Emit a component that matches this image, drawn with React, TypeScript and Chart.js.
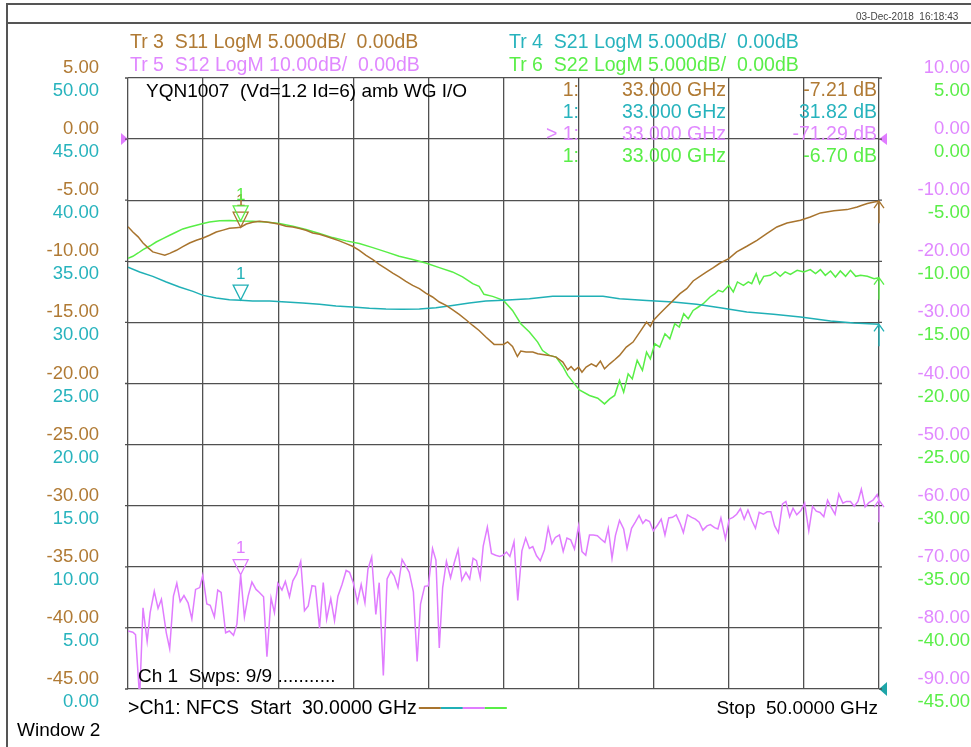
import React, { useEffect, useRef } from 'react';
import { Chart, registerables } from 'chart.js';

Chart.register(...registerables);

// ---------- data (GHz / dB) ----------
const freqS11 = [30.00,30.13,30.27,30.40,30.53,30.66,30.80,30.98,31.11,31.29,31.46,31.64,31.82,32.00,32.17,32.35,32.53,32.70,32.88,33.00,33.15,33.32,33.50,33.68,33.86,34.03,34.21,34.39,34.57,34.74,34.92,35.10,35.27,35.45,35.63,35.81,35.98,36.16,36.34,36.52,36.69,36.87,37.05,37.22,37.40,37.58,37.76,37.93,38.11,38.29,38.47,38.64,38.82,39.00,39.18,39.35,39.53,39.75,40.00,40.11,40.24,40.37,40.46,40.60,40.78,40.91,41.04,41.22,41.40,41.58,41.71,41.80,41.89,42.00,42.09,42.20,42.34,42.47,42.58,42.69,42.83,42.96,43.09,43.27,43.45,43.63,43.81,43.91,43.99,44.16,44.34,44.52,44.70,44.88,45.05,45.23,45.41,45.59,45.77,46.00,46.21,46.48,46.75,47.01,47.28,47.55,47.91,48.17,48.44,48.80,49.15,49.42,49.55,49.69,49.87,50.00];
const s11 = [-7.17,-7.6,-8.0,-8.5,-8.88,-9.23,-9.35,-9.5,-9.35,-9.1,-8.8,-8.5,-8.28,-8.09,-7.87,-7.6,-7.45,-7.3,-7.25,-7.21,-6.95,-6.8,-6.72,-6.78,-6.86,-6.97,-7.13,-7.19,-7.32,-7.46,-7.68,-7.79,-7.95,-8.14,-8.33,-8.55,-8.77,-9.10,-9.51,-9.86,-10.25,-10.60,-10.96,-11.28,-11.64,-11.97,-12.24,-12.60,-12.92,-13.33,-13.61,-13.96,-14.34,-14.78,-15.25,-15.66,-16.2,-16.8,-16.8,-16.6,-16.97,-17.79,-17.35,-17.43,-17.43,-17.57,-17.62,-17.70,-17.84,-18.25,-18.88,-18.61,-18.93,-18.66,-19.07,-18.66,-18.39,-18.61,-18.17,-18.80,-18.39,-18.06,-17.70,-17.02,-16.61,-15.79,-14.97,-15.33,-14.84,-14.29,-13.74,-13.20,-12.65,-12.24,-11.61,-11.23,-10.87,-10.52,-10.14,-9.78,-9.23,-8.77,-8.28,-7.73,-7.19,-6.86,-6.64,-6.37,-6.04,-5.87,-5.77,-5.55,-5.41,-5.27,-5.14,-5.08];

const freqS21 = [30.00,30.31,30.66,31.02,31.37,31.73,32.00,32.35,32.70,33.00,33.32,33.77,34.21,34.65,35.10,35.54,35.98,36.43,36.87,37.31,37.76,38.20,38.64,39.09,39.53,40.00,40.69,41.31,42.02,42.65,43.09,43.81,44.52,45.14,45.77,46.48,47.19,47.91,48.71,49.33,50.00];
const s21 = [34.52,34.13,33.77,33.31,32.90,32.54,32.21,32.00,31.86,31.82,31.75,31.75,31.67,31.58,31.48,31.34,31.26,31.15,31.09,31.07,31.09,31.20,31.39,31.58,31.75,31.82,31.94,32.13,32.13,32.13,31.94,31.80,31.67,31.48,31.20,30.85,30.66,30.44,30.11,29.95,29.84];

const freqS12 = [30.00,30.13,30.20,30.31,30.40,30.51,30.59,30.70,30.80,30.89,31.02,31.11,31.21,31.30,31.39,31.49,31.60,31.70,31.80,31.91,31.99,32.10,32.19,32.30,32.39,32.48,32.60,32.70,32.81,32.90,33.00,33.10,33.20,33.30,33.41,33.50,33.61,33.70,33.81,33.90,33.99,34.10,34.19,34.30,34.39,34.49,34.60,34.70,34.80,34.90,34.99,35.10,35.20,35.29,35.40,35.50,35.59,35.70,35.81,35.90,36.00,36.11,36.21,36.31,36.39,36.49,36.60,36.69,36.80,36.90,37.00,37.09,37.19,37.30,37.40,37.49,37.60,37.70,37.79,37.90,38.00,38.11,38.20,38.29,38.38,38.48,38.59,38.69,38.79,38.89,39.00,39.10,39.19,39.28,39.38,39.46,39.57,39.68,39.79,39.90,39.99,40.08,40.17,40.28,40.38,40.49,40.59,40.69,40.78,40.88,40.98,41.09,41.19,41.29,41.38,41.49,41.59,41.69,41.79,41.89,42.00,42.09,42.19,42.29,42.39,42.50,42.60,42.70,42.79,42.89,42.98,43.09,43.20,43.29,43.41,43.51,43.61,43.71,43.79,43.89,43.99,44.10,44.20,44.30,44.40,44.50,44.60,44.71,44.79,44.90,45.01,45.11,45.21,45.31,45.42,45.51,45.62,45.71,45.79,45.91,46.01,46.11,46.21,46.31,46.41,46.51,46.62,46.71,46.81,46.92,47.02,47.12,47.22,47.32,47.43,47.52,47.62,47.71,47.81,47.92,48.02,48.13,48.23,48.33,48.43,48.53,48.63,48.73,48.83,48.93,49.04,49.13,49.24,49.34,49.44,49.53,49.63,49.73,49.84,49.95,50.00];
const s12 = [-80.5,-80.7,-81.1,-91.5,-76.7,-82.2,-77.5,-74.0,-76.8,-75.3,-80.8,-83.4,-74.8,-72.7,-75.7,-74.7,-75.9,-78.5,-73.7,-73.4,-71.4,-76.1,-76.3,-78.2,-73.8,-74.2,-80.8,-80.5,-81.2,-79.4,-71.3,-78.2,-74.8,-72.5,-73.7,-74.2,-74.9,-84.7,-75.1,-77.5,-72.7,-73.8,-72.4,-74.9,-72.3,-71.2,-69.1,-77.2,-76.4,-73.1,-73.2,-80.0,-72.6,-78.6,-75.2,-78.8,-74.8,-72.9,-70.6,-70.9,-72.6,-75.8,-72.9,-75.9,-70.4,-68.4,-77.8,-72.6,-87.8,-72.0,-70.7,-71.5,-73.4,-68.8,-69.9,-70.9,-74.1,-85.5,-76.1,-73.2,-73.1,-67.0,-68.9,-83.3,-73.4,-69.1,-71.8,-69.3,-67.2,-72.2,-70.9,-72.0,-68.6,-69.0,-71.8,-66.6,-63.5,-67.8,-68.1,-68.3,-68.1,-67.6,-68.3,-65.9,-75.5,-67.4,-65.3,-67.0,-66.7,-68.2,-69.0,-67.2,-63.6,-66.2,-65.2,-64.8,-67.5,-65.3,-65.6,-67.1,-63.3,-67.5,-68.1,-64.8,-64.8,-64.9,-65.5,-66.0,-63.7,-68.6,-64.9,-62.4,-63.8,-67.0,-63.7,-62.7,-61.6,-62.9,-62.3,-62.6,-64.1,-63.2,-62.2,-64.8,-62.0,-61.9,-61.5,-63.0,-64.4,-61.5,-61.9,-62.2,-62.7,-64.0,-63.3,-63.1,-63.6,-63.8,-62.0,-65.4,-62.2,-61.9,-61.4,-60.5,-62.2,-60.7,-62.5,-63.7,-61.1,-61.4,-61.0,-61.0,-63.3,-64.4,-59.7,-59.3,-61.8,-60.4,-61.5,-60.8,-59.6,-64.1,-60.1,-60.9,-61.1,-61.8,-59.1,-60.3,-61.4,-58.1,-59.6,-59.3,-59.3,-60.1,-59.3,-57.3,-60.2,-59.5,-59.1,-58.2,-59.1];

const freqS22 = [30.00,30.13,30.27,30.40,30.58,30.75,30.93,31.11,31.29,31.46,31.64,31.82,32.00,32.17,32.44,32.70,33.00,33.32,33.68,34.03,34.39,34.74,35.10,35.45,35.81,36.16,36.52,36.87,37.22,37.58,37.93,38.29,38.64,38.91,39.18,39.35,39.48,39.71,40.00,40.24,40.46,40.69,40.91,41.04,41.22,41.40,41.58,41.71,41.89,42.02,42.29,42.51,42.69,42.83,42.96,43.09,43.20,43.32,43.43,43.56,43.70,43.81,43.91,44.03,44.16,44.30,44.43,44.56,44.68,44.80,44.92,45.05,45.19,45.32,45.50,45.63,45.72,45.84,46.00,46.12,46.23,46.39,46.52,46.61,46.73,46.82,46.93,47.10,47.24,47.37,47.50,47.64,47.82,48.00,48.17,48.31,48.44,48.57,48.71,48.84,48.97,49.11,49.24,49.38,49.51,49.69,49.87,50.00];
const s22 = [-9.76,-9.59,-9.32,-9.04,-8.75,-8.42,-8.14,-7.87,-7.60,-7.35,-7.19,-7.05,-6.91,-6.78,-6.69,-6.66,-6.70,-6.72,-6.78,-6.91,-7.13,-7.40,-7.73,-8.06,-8.33,-8.55,-8.88,-9.23,-9.59,-9.86,-10.14,-10.52,-10.87,-11.28,-11.83,-12.05,-12.70,-12.87,-13.20,-14.02,-15.11,-15.79,-16.61,-17.30,-17.70,-17.84,-18.61,-19.34,-20.03,-20.52,-20.98,-21.20,-21.67,-21.26,-20.98,-19.75,-20.71,-19.21,-19.62,-18.11,-18.93,-17.43,-17.98,-16.75,-17.02,-15.93,-16.34,-15.11,-15.38,-14.29,-14.70,-14.02,-13.74,-13.47,-12.92,-12.65,-12.38,-12.51,-11.97,-12.51,-11.69,-11.97,-11.69,-11.83,-11.01,-11.83,-11.23,-11.15,-10.87,-11.23,-10.87,-11.07,-10.74,-10.87,-10.68,-11.01,-10.68,-11.15,-10.79,-11.28,-10.79,-11.23,-10.74,-11.23,-11.15,-11.23,-11.42,-11.34];

// tick labels
const leftOuterTicks = ['5.00','0.00','-5.00','-10.00','-15.00','-20.00','-25.00','-30.00','-35.00','-40.00','-45.00'];
const leftInnerTicks = ['50.00','45.00','40.00','35.00','30.00','25.00','20.00','15.00','10.00','5.00','0.00'];
const rightOuterTicks = ['10.00','0.00','-10.00','-20.00','-30.00','-40.00','-50.00','-60.00','-70.00','-80.00','-90.00'];
const rightInnerTicks = ['5.00','0.00','-5.00','-10.00','-15.00','-20.00','-25.00','-30.00','-35.00','-40.00','-45.00'];

// marker 1 readout
const markerFreq = 33.0;
const markerValues = [-7.21, 31.82, -71.29, -6.70]; // S11, S21, S12, S22
const markerTexts = ['-7.21 dB', '31.82 dB', '-71.29 dB', '-6.70 dB'];

const BROWN = '#a8742e';
const TEAL = '#20b0b6';
const VIOLET = '#e07cff';
const GREEN = '#58ee46';
const BROWN_T = '#b07a34';
const TEAL_T = '#27b3bd';
const VIOLET_T = '#e088ff';
const GREEN_T = '#5aee48';
const GRID = '#505050';
const FONT = '"Liberation Sans", Arial, sans-serif';

const zip = (xs: number[], ys: number[]) => {
  const n = Math.min(xs.length, ys.length);
  const out: { x: number; y: number }[] = [];
  for (let i = 0; i < n; i++) out.push({ x: xs[i], y: ys[i] });
  return out;
};

const decor = {
  id: 'vnaDecor',
  beforeDraw(chart: any) {
    const ctx = chart.ctx;
    ctx.save();
    ctx.fillStyle = '#ffffff';
    ctx.fillRect(0, 0, chart.width, chart.height);
    ctx.restore();
  },
  afterDatasetsDraw(chart: any) {
    const ctx = chart.ctx;
    const { left, right } = chart.chartArea;
    const sx = chart.scales.x;
    const scales = [chart.scales.y, chart.scales.y21, chart.scales.y12, chart.scales.y22];
    const colors = [BROWN, TEAL, VIOLET, GREEN];
    const lasts = [s11[s11.length - 1], s21[s21.length - 1], s12[s12.length - 1], s22[s22.length - 1]];
    ctx.save();
    ctx.lineWidth = 1.3;
    // marker triangles
    const mx = sx.getPixelForValue(markerFreq);
    [2, 1, 0, 3].forEach((i) => {
      const py = scales[i].getPixelForValue(markerValues[i]);
      ctx.strokeStyle = colors[i];
      ctx.beginPath();
      ctx.moveTo(mx - 7.5, py - 15);
      ctx.lineTo(mx + 7.5, py - 15);
      ctx.lineTo(mx, py);
      ctx.closePath();
      ctx.stroke();
      ctx.fillStyle = colors[i];
      ctx.font = '17px ' + FONT;
      ctx.textAlign = 'center';
      ctx.textBaseline = 'middle';
      ctx.fillText('1', mx, py - 26);
    });
    // end-of-trace arrows
    lasts.forEach((v, i) => {
      const py = scales[i].getPixelForValue(v);
      ctx.strokeStyle = colors[i];
      ctx.beginPath();
      ctx.moveTo(right - 5, py + 7);
      ctx.lineTo(right, py);
      ctx.lineTo(right + 5, py + 7);
      ctx.moveTo(right, py);
      ctx.lineTo(right, py + 22);
      ctx.stroke();
    });
    // reference triangles
    const refV = scales[2].getPixelForValue(0);
    ctx.fillStyle = VIOLET;
    ctx.beginPath();
    ctx.moveTo(left - 7, refV - 6); ctx.lineTo(left, refV); ctx.lineTo(left - 7, refV + 6); ctx.closePath(); ctx.fill();
    ctx.beginPath();
    ctx.moveTo(right + 8, refV - 6); ctx.lineTo(right, refV); ctx.lineTo(right + 8, refV + 6); ctx.closePath(); ctx.fill();
    const refT = scales[1].getPixelForValue(0);
    ctx.fillStyle = '#1ea5a8';
    ctx.beginPath();
    ctx.moveTo(right + 8, refT - 7); ctx.lineTo(right, refT); ctx.lineTo(right + 8, refT + 7); ctx.closePath(); ctx.fill();

    // texts inside plot
    ctx.font = '19px ' + FONT;
    ctx.textBaseline = 'middle';
    ctx.fillStyle = '#000';
    ctx.textAlign = 'left';
    ctx.fillText('YQN1007  (Vd=1.2 Id=6) amb WG I/O', 146, 92);
    ctx.fillText('Ch 1  Swps: 9/9 ...........', 138, 677);
    ctx.font = '19.5px ' + FONT;
    const rowY = [91, 113, 135, 157];
    const rowC = [BROWN_T, TEAL_T, VIOLET_T, GREEN_T];
    rowY.forEach((y, i) => {
      ctx.fillStyle = rowC[i];
      ctx.textAlign = 'right';
      ctx.fillText(i === 2 ? '> 1:' : '1:', 579, y);
      ctx.fillText(markerFreq.toFixed(3) + ' GHz', 726, y);
      ctx.fillText(markerTexts[i], 877, y);
    });
    ctx.restore();
  },
  afterDraw(chart: any) {
    const ctx = chart.ctx;
    const { left, right } = chart.chartArea;
    const s11s = chart.scales.y, s21s = chart.scales.y21, s12s = chart.scales.y12, s22s = chart.scales.y22;
    ctx.save();
    // frame
    ctx.strokeStyle = '#555';
    ctx.lineWidth = 2;
    ctx.beginPath();
    ctx.moveTo(7, 747); ctx.lineTo(7, 4); ctx.lineTo(971, 4);
    ctx.moveTo(7, 23); ctx.lineTo(971, 23);
    ctx.stroke();
    // small tick stubs
    ctx.strokeStyle = GRID;
    ctx.lineWidth = 1.3;
    ctx.beginPath();
    s11s.ticks.forEach((t: any) => {
      const y = s11s.getPixelForValue(t.value);
      ctx.moveTo(left - 3, y); ctx.lineTo(left, y);
      ctx.moveTo(right, y); ctx.lineTo(right + 3, y);
    });
    ctx.stroke();
    // date
    ctx.fillStyle = '#444';
    ctx.font = '10px ' + FONT;
    ctx.textAlign = 'left';
    ctx.textBaseline = 'middle';
    ctx.fillText('03-Dec-2018  16:18:43', 856, 17);

    // header
    ctx.font = '19.5px ' + FONT;
    ctx.fillStyle = BROWN_T; ctx.fillText('Tr 3  S11 LogM 5.000dB/  0.00dB', 130, 43);
    ctx.fillStyle = VIOLET_T; ctx.fillText('Tr 5  S12 LogM 10.00dB/  0.00dB', 130, 66);
    ctx.fillStyle = TEAL_T; ctx.fillText('Tr 4  S21 LogM 5.000dB/  0.00dB', 509, 43);
    ctx.fillStyle = GREEN_T; ctx.fillText('Tr 6  S22 LogM 5.000dB/  0.00dB', 509, 66);

    // axis labels
    ctx.font = '18.5px ' + FONT;
    ctx.textAlign = 'right';
    leftOuterTicks.forEach((l) => { ctx.fillStyle = BROWN_T; ctx.fillText(l, 99, s11s.getPixelForValue(parseFloat(l)) - 10); });
    leftInnerTicks.forEach((l) => { ctx.fillStyle = TEAL_T; ctx.fillText(l, 99, s21s.getPixelForValue(parseFloat(l)) + 13); });
    rightOuterTicks.forEach((l) => { ctx.fillStyle = VIOLET_T; ctx.fillText(l, 970, s12s.getPixelForValue(parseFloat(l)) - 10); });
    rightInnerTicks.forEach((l) => { ctx.fillStyle = GREEN_T; ctx.fillText(l, 970, s22s.getPixelForValue(parseFloat(l)) + 13); });

    // bottom
    ctx.font = '19.5px ' + FONT;
    ctx.fillStyle = '#000';
    ctx.textAlign = 'left';
    const startTxt = '>Ch1: NFCS  Start  30.0000 GHz';
    ctx.fillText(startTxt, left, 709);
    const w = ctx.measureText(startTxt).width;
    const segs = [BROWN, TEAL, VIOLET, GREEN];
    ctx.lineWidth = 2;
    segs.forEach((c, i) => {
      ctx.strokeStyle = c;
      ctx.beginPath();
      ctx.moveTo(left + w + 2 + i * 22, 708);
      ctx.lineTo(left + w + 2 + (i + 1) * 22, 708);
      ctx.stroke();
    });
    ctx.font = '19px ' + FONT;
    ctx.textAlign = 'right';
    ctx.fillText('Stop  50.0000 GHz', 878, 709);
    ctx.textAlign = 'left';
    ctx.fillText('Window 2', 17, 731);
    ctx.restore();
  },
};

export default function App() {
  const ref = useRef<HTMLCanvasElement | null>(null);
  useEffect(() => {
    document.body.style.margin = '0';
    document.body.style.overflow = 'hidden';
    const canvas = ref.current;
    if (!canvas) return;
    const gridOpts = { color: GRID, lineWidth: 1.3, drawTicks: false };
    const chart = new Chart(canvas, {
      type: 'line',
      data: {
        datasets: [
          { label: 'S11', data: zip(freqS11, s11), borderColor: BROWN, yAxisID: 'y' },
          { label: 'S21', data: zip(freqS21, s21), borderColor: TEAL, yAxisID: 'y21' },
          { label: 'S12', data: zip(freqS12, s12), borderColor: VIOLET, yAxisID: 'y12' },
          { label: 'S22', data: zip(freqS22, s22), borderColor: GREEN, yAxisID: 'y22' },
        ],
      },
      options: {
        responsive: false,
        animation: false,
        devicePixelRatio: 1,
        layout: { padding: { left: 128, right: 92, top: 78, bottom: 58 } },
        plugins: { legend: { display: false }, tooltip: { enabled: false }, title: { display: false } },
        elements: { point: { radius: 0 }, line: { tension: 0, borderWidth: 1.5 } },
        scales: {
          x: { type: 'linear', min: 30, max: 50, ticks: { display: false, stepSize: 2 }, grid: gridOpts, border: { display: false } },
          y: { type: 'linear', position: 'left', min: -45, max: 5, ticks: { display: false, stepSize: 5 }, grid: gridOpts, border: { display: false } },
          y21: { type: 'linear', display: false, min: 0, max: 50 },
          y12: { type: 'linear', display: false, min: -90, max: 10 },
          y22: { type: 'linear', display: false, min: -45, max: 5 },
        },
      } as any,
      plugins: [decor],
    });
    return () => chart.destroy();
  }, []);
  return <canvas ref={ref} width={971} height={747} style={{ display: 'block' }} />;
}
